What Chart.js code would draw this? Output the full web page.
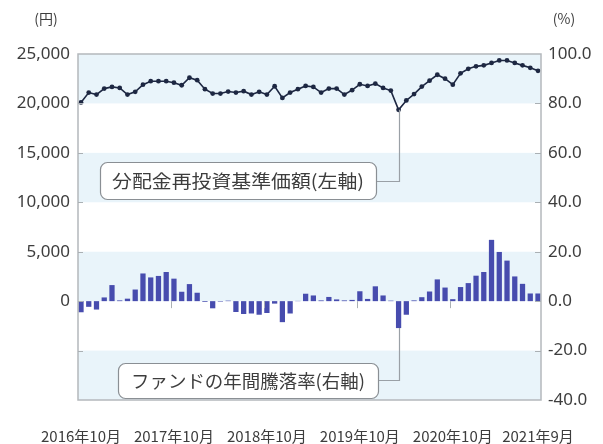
<!DOCTYPE html>
<html><head><meta charset="utf-8">
<script src="https://cdn.jsdelivr.net/npm/chart.js@4"></script>
<style>html,body{margin:0;padding:0;background:#fff}#wrap{width:603px;height:444px}</style>
</head><body><div id="wrap"><canvas id="c" width="603" height="444"></canvas></div>
<script>
const months = [
 "2016年10月","2016年11月","2016年12月","2017年1月","2017年2月","2017年3月","2017年4月","2017年5月","2017年6月","2017年7月","2017年8月","2017年9月",
 "2017年10月","2017年11月","2017年12月","2018年1月","2018年2月","2018年3月","2018年4月","2018年5月","2018年6月","2018年7月","2018年8月","2018年9月",
 "2018年10月","2018年11月","2018年12月","2019年1月","2019年2月","2019年3月","2019年4月","2019年5月","2019年6月","2019年7月","2019年8月","2019年9月",
 "2019年10月","2019年11月","2019年12月","2020年1月","2020年2月","2020年3月","2020年4月","2020年5月","2020年6月","2020年7月","2020年8月","2020年9月",
 "2020年10月","2020年11月","2020年12月","2021年1月","2021年2月","2021年3月","2021年4月","2021年5月","2021年6月","2021年7月","2021年8月","2021年9月"
];
const tickLabels = ["2016年10月","2017年10月","2018年10月","2019年10月","2020年10月","2021年9月"];
const navValues = [
 20100,21100,20900,21500,21670,21570,20900,21170,21900,22250,22250,22250,
 22100,21840,22600,22350,21440,21000,21000,21200,21100,21240,20900,21170,
 20900,21740,20560,21100,21440,21770,21670,21100,21500,21500,20900,21340,
 21940,21770,22000,21570,21300,19350,20300,20950,21700,22300,22900,22500,
 21900,23050,23500,23750,23850,24100,24350,24350,24100,23850,23600,23300
];
const returnValues = [
 -4.5,-2.3,-3.4,1.5,6.5,0.3,1.0,4.7,11.2,9.6,10.2,11.8,
 9.1,3.8,6.9,3.4,-0.3,-2.9,-0.2,0.2,-4.4,-5.2,-5.0,-5.5,
 -4.8,-1.0,-8.5,-5.0,0.1,3.0,2.3,0.3,1.7,0.7,0.3,0.5,
 4.0,0.9,6.0,2.3,0.2,-10.9,-5.5,0.3,1.6,3.9,8.8,5.5,
 0.8,5.7,7.3,10.3,11.8,24.8,19.9,16.4,10.0,7.0,3.1,3.1
];
const leftTicks = [0,5000,10000,15000,20000,25000];
const rightTicks = [-40,-20,0,20,40,60,80,100];
const calloutNav = "分配金再投資基準価額(左軸)";
const calloutRet = "ファンドの年間騰落率(右軸)";
const calloutIndex = 41;

const TXT = '#3d3d3d';
const INSET = 3;
const bandPlugin = {
  id:'bands',
  beforeDatasetsDraw(chart){
    const {ctx, chartArea:a, scales:{y}} = chart;
    ctx.save();
    ctx.fillStyle = '#e9f4fa';
    for (let v=20000; v>=-10000; v-=10000){
      const t = y.getPixelForValue(v+5000), b = y.getPixelForValue(v);
      ctx.fillRect(a.left-INSET, t, a.right-a.left+2*INSET, b-t);
    }
    ctx.restore();
  },
  afterDatasetsDraw(chart){
    const {ctx, chartArea:a, scales:{x,y,y1}} = chart;
    const L = a.left-INSET, R = a.right+INSET;
    ctx.save();
    ctx.strokeStyle = '#b4b8bc'; ctx.lineWidth = 1.5;
    ctx.strokeRect(L, a.top, R-L, a.bottom-a.top);
    ctx.lineWidth = 1; ctx.strokeStyle = '#aab0b4';
    for (let v=-5000; v<25000; v+=5000){
      const py = Math.round(y.getPixelForValue(v))+0.5;
      ctx.beginPath(); ctx.moveTo(L, py); ctx.lineTo(L+5, py); ctx.stroke();
      ctx.beginPath(); ctx.moveTo(R-6, py); ctx.lineTo(R, py); ctx.stroke();
    }
    const y0 = y.getPixelForValue(0);
    [12,24,36,48].forEach(i=>{
      const px = Math.round(x.getPixelForValue(i-0.4))+0.5;
      ctx.beginPath(); ctx.moveTo(px, y0); ctx.lineTo(px, y0+7); ctx.stroke();
    });
    const lx = Math.round(x.getPixelForValue(calloutIndex))+0.5;
    const ly1 = y.getPixelForValue(navValues[calloutIndex]);
    const ly2 = y1.getPixelForValue(returnValues[calloutIndex]);
    ctx.strokeStyle = '#9aa0a6'; ctx.lineWidth = 1.2;
    ctx.beginPath(); ctx.moveTo(376, 181.5); ctx.lineTo(lx, 181.5); ctx.lineTo(lx, ly1); ctx.stroke();
    ctx.beginPath(); ctx.moveTo(378, 380.5); ctx.lineTo(lx, 380.5); ctx.lineTo(lx, ly2); ctx.stroke();
    function box(x0,y0,w,h,text,tw){
      ctx.beginPath(); ctx.roundRect(x0+0.5,y0+0.5,w,h,7);
      ctx.fillStyle='#fff'; ctx.fill();
      ctx.strokeStyle='#8a8f94'; ctx.lineWidth=1.2; ctx.stroke();
      ctx.font = '18px "Noto Sans CJK JP"'; ctx.fillStyle = TXT;
      ctx.textBaseline='middle'; ctx.textAlign='left';
      const m = ctx.measureText(text).width;
      const s = Math.min(1.2, tw/m);
      ctx.save(); ctx.translate(x0+(w-tw)/2, y0+h/2+1); ctx.scale(s,1);
      ctx.fillText(text,0,0); ctx.restore();
    }
    box(100,162,276,37,calloutNav,252);
    box(118,363,260,35,calloutRet,234);
    ctx.font = '14px "Noto Sans CJK JP"'; ctx.fillStyle = TXT; ctx.textAlign='center'; ctx.textBaseline='middle';
    ctx.fillText('(円)', 46, 19);
    ctx.fillText('(%)', 564, 19);
    ctx.restore();
  }
};

new Chart(document.getElementById('c'), {
  data: {
    labels: months,
    datasets: [
      { type:'line', data: navValues, yAxisID:'y', borderColor:'#1d2742', borderWidth:1.6,
        pointRadius:2.4, pointBackgroundColor:'#1d2742', pointBorderWidth:0, tension:0, order:0, clip:6 },
      { type:'bar', data: returnValues, yAxisID:'y1', backgroundColor:'#474cae', borderWidth:0,
        barPercentage:0.85, categoryPercentage:0.8, order:1, clip:INSET }
    ]
  },
  options: {
    responsive:false, animation:false,
    layout:{ padding:{ top:54, left:0, right:0, bottom:0 } },
    plugins:{ legend:{display:false}, tooltip:{enabled:false} },
    scales:{
      x:{ offset:false, grid:{display:false, drawTicks:false}, border:{display:false},
          afterFit(s){ s.height = 44; },
          ticks:{ autoSkip:false, maxRotation:0, padding:27, color:TXT,
            font:{family:'"Noto Sans CJK JP"', size:15},
            callback(v,i){ const l = months[i]; return tickLabels.includes(l) ? l : ''; } } },
      y:{ position:'left', min:-10000, max:25000, grid:{display:false, drawTicks:false}, border:{display:false},
          afterFit(s){ s.width = 81; },
          afterBuildTicks(s){ s.ticks = leftTicks.map(v=>({value:v})); },
          ticks:{ padding:11, color:TXT, font:{family:'"Noto Sans"', size:17},
            callback(v){ return v.toLocaleString('en-US'); } } },
      y1:{ position:'right', min:-40, max:100, grid:{display:false, drawTicks:false}, border:{display:false},
          afterFit(s){ s.width = 65; },
          afterBuildTicks(s){ s.ticks = rightTicks.map(v=>({value:v})); },
          ticks:{ padding:10, color:TXT, font:{family:'"Noto Sans"', size:17},
            callback(v){ return Number(v).toFixed(1); } } }
    }
  },
  plugins:[bandPlugin]
});
</script></body></html>
